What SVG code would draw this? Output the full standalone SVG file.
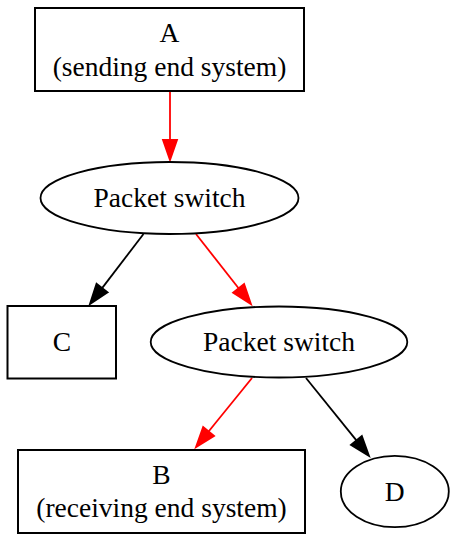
<svg xmlns="http://www.w3.org/2000/svg" width="457" height="541" viewBox="0 0 457 541">
<style>
.box{fill:#fff;stroke:#000;stroke-width:2}
.ell{fill:#fff;stroke:#000;stroke-width:1.8}
text{font-family:"Liberation Serif","Times New Roman",serif;font-size:27.5px;fill:#000;text-anchor:middle}
.e{fill:none;stroke-width:1.8}
.red{stroke:#ff0000}
.blk{stroke:#000}
</style>
<defs>
<marker id="ar" markerUnits="userSpaceOnUse" markerWidth="24" markerHeight="20" refX="0" refY="0" orient="auto" overflow="visible">
<path d="M0,-7 L20,0 L0,7 Z" fill="#ff0000" stroke="#ff0000" stroke-width="1.8"/>
</marker>
<marker id="ab" markerUnits="userSpaceOnUse" markerWidth="24" markerHeight="20" refX="0" refY="0" orient="auto" overflow="visible">
<path d="M0,-7 L20,0 L0,7 Z" fill="#000" stroke="#000" stroke-width="1.8"/>
</marker>
</defs>
<g id="edges">
<path class="e red" d="M170,91 L170,140" marker-end="url(#ar)"/>
<path class="e blk" d="M143.5,234 L102.1,288.1" marker-end="url(#ab)"/>
<path class="e red" d="M196,234 L238.6,288.3" marker-end="url(#ar)"/>
<path class="e red" d="M252,378 L208.6,431.5" marker-end="url(#ar)"/>
<path class="e blk" d="M306,378 L356.4,440.4" marker-end="url(#ab)"/>
</g>
<g id="A">
<rect class="box" x="35" y="8" width="269" height="83"/>
<text x="169.5" y="42">A</text>
<text x="169.5" y="76">(sending end system)</text>
</g>
<g id="PS1">
<ellipse class="ell" cx="169.5" cy="198" rx="129" ry="36"/>
<text x="169.5" y="207">Packet switch</text>
</g>
<g id="C">
<rect class="box" x="7.5" y="306" width="108.5" height="72.5"/>
<text x="62" y="351">C</text>
</g>
<g id="PS2">
<ellipse class="ell" cx="279" cy="342" rx="128.3" ry="35.5"/>
<text x="279" y="351">Packet switch</text>
</g>
<g id="B">
<rect class="box" x="18" y="450" width="287" height="83"/>
<text x="161.5" y="483.5">B</text>
<text x="161.5" y="517">(receiving end system)</text>
</g>
<g id="D">
<ellipse class="ell" cx="394.8" cy="491.5" rx="54" ry="35.7"/>
<text x="394.8" y="501">D</text>
</g>
</svg>
